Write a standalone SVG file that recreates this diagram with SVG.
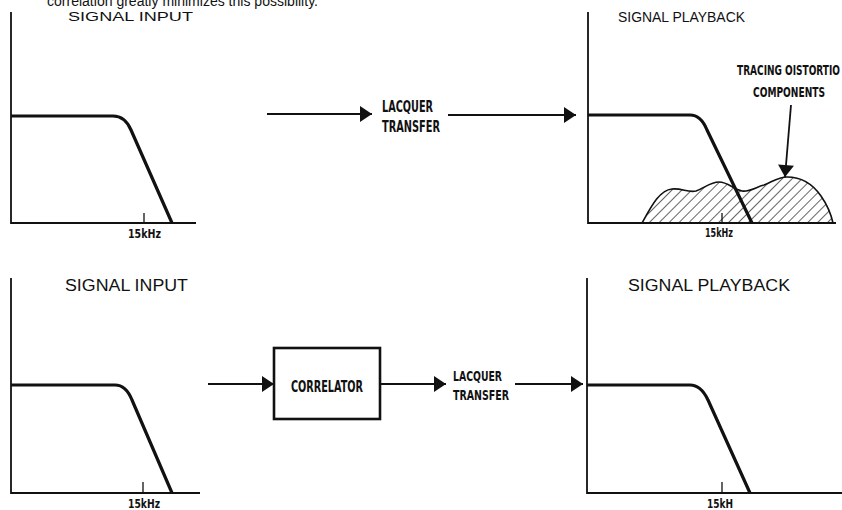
<svg xmlns="http://www.w3.org/2000/svg" width="842" height="510" viewBox="0 0 842 510">
<style>
.ax{stroke:#111;stroke-width:1.8;fill:none}
.cv{stroke:#111;stroke-width:3.2;fill:none;stroke-linejoin:round}
.tk{stroke:#111;stroke-width:1.3}
.cn{stroke:#111;stroke-width:1.8;fill:none}
.t{font-family:"Liberation Sans",Arial,sans-serif;fill:#111}
.c{font-family:"DejaVu Sans Condensed","Liberation Sans Narrow","Liberation Sans",sans-serif;font-weight:bold;fill:#111}
</style>
<defs>
<marker id="ah" markerUnits="userSpaceOnUse" markerWidth="14" markerHeight="18" viewBox="-13 -9 14 18" refX="0" refY="0" orient="auto">
<path d="M-12,-8 L0,0 L-12,8 Z" fill="#111"/>
</marker>
<pattern id="hatch" width="7" height="7" patternUnits="userSpaceOnUse" patternTransform="rotate(45)">
<line x1="0" y1="0" x2="0" y2="7" stroke="#111" stroke-width="1.3"/>
</pattern>
</defs>
<rect width="842" height="510" fill="#fff"/>
<text class="t" x="47" y="6" font-size="14" textLength="271" lengthAdjust="spacingAndGlyphs">correlation greatly minimizes this possibility.</text>

<g id="top-input">
<text class="t" x="68" y="21" font-size="13" textLength="125" lengthAdjust="spacingAndGlyphs">SIGNAL  INPUT</text>
<path class="ax" d="M11,12 V223 H196"/>
<line class="tk" x1="144" y1="213" x2="144" y2="223"/>
<path class="cv" d="M11,116 H113 Q125,116 131,130 L172,223"/>
<text class="c" x="128" y="238" font-size="12" textLength="33" lengthAdjust="spacingAndGlyphs">15kHz</text>
</g>

<g id="top-lacquer">
<text class="c" x="382" y="112" font-size="15" textLength="51" lengthAdjust="spacingAndGlyphs">LACQUER</text>
<text class="c" x="382" y="132" font-size="15" textLength="58" lengthAdjust="spacingAndGlyphs">TRANSFER</text>
</g>

<g id="top-playback">
<text class="t" x="618" y="22" font-size="14" textLength="127" lengthAdjust="spacingAndGlyphs">SIGNAL  PLAYBACK</text>
<path d="M642,223 C652,205 660,190 672,189 C682,188 688,193 696,191 C705,188 710,182 719,182 C728,182 733,189 742,191 C750,192 756,187 764,185 C772,182 778,177 787,177 C800,177 812,183 821,196 C828,206 831,214 833,223 Z" fill="url(#hatch)" stroke="#111" stroke-width="1.6"/>
<path class="ax" d="M588,12 V223 H836"/>
<line class="tk" x1="722" y1="213" x2="722" y2="223"/>
<path class="cv" d="M588,115 H690 Q701,115 707,130 L752,223"/>
<text class="c" x="705" y="237" font-size="12" textLength="28" lengthAdjust="spacingAndGlyphs">15kHz</text>
<text class="c" x="737" y="75" font-size="14" textLength="103" lengthAdjust="spacingAndGlyphs">TRACING OISTORTIO</text>
<text class="c" x="753" y="97" font-size="14" textLength="72" lengthAdjust="spacingAndGlyphs">COMPONENTS</text>
</g>

<g id="bottom-input">
<text class="t" x="65" y="291" font-size="16" textLength="123" lengthAdjust="spacingAndGlyphs">SIGNAL  INPUT</text>
<path class="ax" d="M11,278 V493 H200"/>
<line class="tk" x1="143" y1="482" x2="143" y2="493"/>
<path class="cv" d="M11,385 H115 Q126,385 132,400 L172,493"/>
<text class="c" x="128" y="508" font-size="12" textLength="32" lengthAdjust="spacingAndGlyphs">15kHz</text>
</g>

<g id="correlator">
<rect x="274" y="348" width="106" height="71" fill="#fff" stroke="#111" stroke-width="2.6"/>
<text class="c" x="291" y="392" font-size="15" textLength="72" lengthAdjust="spacingAndGlyphs">CORRELATOR</text>
</g>

<g id="bottom-lacquer">
<text class="c" x="453" y="381" font-size="14" textLength="49" lengthAdjust="spacingAndGlyphs">LACQUER</text>
<text class="c" x="453" y="400" font-size="14" textLength="56" lengthAdjust="spacingAndGlyphs">TRANSFER</text>
</g>

<g id="bottom-playback">
<text class="t" x="628" y="291" font-size="16" textLength="162" lengthAdjust="spacingAndGlyphs">SIGNAL  PLAYBACK</text>
<path class="ax" d="M587,278 V493 H842"/>
<line class="tk" x1="722" y1="482" x2="722" y2="493"/>
<path class="cv" d="M587,385 H690 Q701,385 708,400 L750,493"/>
<text class="c" x="707" y="508" font-size="12" textLength="26" lengthAdjust="spacingAndGlyphs">15kH</text>
</g>

<g id="connectors">
<line class="cn" x1="267" y1="114" x2="372" y2="114" marker-end="url(#ah)"/>
<line class="cn" x1="448" y1="115" x2="576" y2="115" marker-end="url(#ah)"/>
<line class="cn" x1="791" y1="105" x2="785" y2="177" marker-end="url(#ah)"/>
<line class="cn" x1="208" y1="384" x2="274" y2="384" marker-end="url(#ah)"/>
<line class="cn" x1="380" y1="384" x2="446" y2="384" marker-end="url(#ah)"/>
<line class="cn" x1="515" y1="384" x2="583" y2="384" marker-end="url(#ah)"/>
</g>
</svg>
